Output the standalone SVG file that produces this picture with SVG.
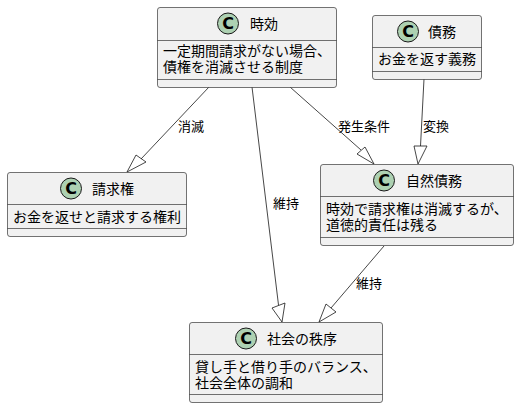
<svg xmlns="http://www.w3.org/2000/svg" width="519" height="408" viewBox="0 0 519 408">
<style>
text{font-family:"Noto Sans CJK JP","Noto Sans CJK SC",sans-serif;font-size:14px;fill:#000}
.lb{font-size:13px}
.box{fill:#F1F1F1;stroke:#181818;stroke-width:.6}
.sep{stroke:#181818;stroke-width:.6;fill:none}
.ci{fill:#ADD1B2;stroke:#181818;stroke-width:1}
.c{font-family:"DejaVu Sans",sans-serif;font-size:16px;font-weight:700;text-anchor:middle}
.e{fill:none;stroke:#181818;stroke-width:.8}
.h{fill:none;stroke:#181818;stroke-width:.8}
</style>
<g id="connectors">
<path class="e" d="M209,87L141,159"/><path class="h" d="M127,172L136,155L146,162Z"/>
<path class="e" d="M252,87L278.500,305"/><path class="h" d="M282,322L272,308L285,303Z"/>
<path class="e" d="M290,87L361,150"/><path class="h" d="M374,164L357,154L365,147Z"/>
<path class="e" d="M424,79L420.500,146"/><path class="h" d="M418,164L414,146L427,146Z"/>
<path class="e" d="M384,246L331,308"/><path class="h" d="M319,322L326,304L336,312Z"/>
<text class="lb" x="178" y="131">消滅</text>
<text class="lb" x="273" y="208">維持</text>
<text class="lb" x="338" y="131">発生条件</text>
<text class="lb" x="423" y="131">変換</text>
<text class="lb" x="356" y="288">維持</text>
</g>
<g id="jikou">
<rect class="box" x="157.500" y="7.500" width="179" height="80" rx="2.500"/>
<path class="sep" d="M157.500,40.500H336.500M157.500,79.500H336.500"/>
<circle class="ci" cx="228" cy="23.500" r="10.500"/><text class="c" x="228" y="29">C</text>
<text x="250" y="29">時効</text>
<text><tspan x="163" y="56">一定期間請求がない場合、</tspan><tspan x="163" y="72">債権を消滅させる制度</tspan></text>
</g>
<g id="saimu">
<rect class="box" x="372.500" y="15.500" width="109" height="64" rx="2.500"/>
<path class="sep" d="M372.500,47.500H481.500M372.500,71.500H481.500"/>
<circle class="ci" cx="408" cy="31.500" r="10.500"/><text class="c" x="408" y="37">C</text>
<text x="428" y="37">債務</text>
<text x="378" y="64">お金を返す義務</text>
</g>
<g id="seikyuken">
<rect class="box" x="7.500" y="172.500" width="179" height="64" rx="2.500"/>
<path class="sep" d="M7.500,204.500H186.500M7.500,228.500H186.500"/>
<circle class="ci" cx="71" cy="188.500" r="10.500"/><text class="c" x="71" y="194">C</text>
<text x="92" y="194">請求権</text>
<text x="13" y="222">お金を返せと請求する権利</text>
</g>
<g id="shizen">
<rect class="box" x="320.500" y="164.500" width="193" height="81" rx="2.500"/>
<path class="sep" d="M320.500,196.500H513.500M320.500,237.500H513.500"/>
<circle class="ci" cx="384" cy="180.500" r="10.500"/><text class="c" x="384" y="186">C</text>
<text x="406" y="186">自然債務</text>
<text><tspan x="326" y="214">時効で請求権は消滅するが、</tspan><tspan x="326" y="230">道徳的責任は残る</tspan></text>
</g>
<g id="shakai">
<rect class="box" x="189.500" y="322.500" width="193" height="80" rx="2.500"/>
<path class="sep" d="M189.500,354.500H382.500M189.500,394.500H382.500"/>
<circle class="ci" cx="246" cy="338.500" r="10.500"/><text class="c" x="246" y="344">C</text>
<text x="267" y="344">社会の秩序</text>
<text><tspan x="195" y="372">貸し手と借り手のバランス、</tspan><tspan x="195" y="388">社会全体の調和</tspan></text>
</g>
</svg>
